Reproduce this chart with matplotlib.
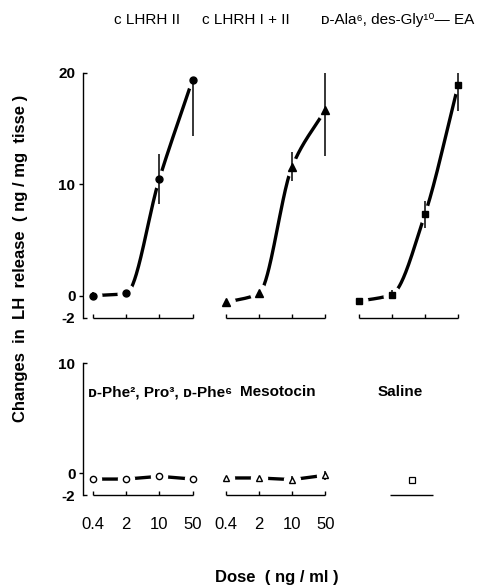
import numpy as np
import matplotlib
matplotlib.use("Agg")
import matplotlib.pyplot as plt
from matplotlib.ticker import FixedLocator, FixedFormatter

plt.rcParams['font.family'] = ['Liberation Sans', 'DejaVu Sans']
plt.rcParams['axes.unicode_minus'] = False

# --- data ---
dose_labels = ["0.4", "2", "10", "50"]
pos_a = [0, 1, 2, 3]
pos_b = [4, 5, 6, 7]
pos_c = [8, 9, 10, 11]
pos_saline = [9.6]

# upper panel: agonists (filled markers)
lhrh2 = [0.0, 0.2, 10.5, 19.4]
lhrh2_lo = [0.3, 0.0, 2.3, 5.1]
lhrh2_hi = [0.3, 0.0, 2.2, 0.0]
lhrh12 = [-0.6, 0.2, 11.6, 16.7]
lhrh12_err = [0.0, 0.0, 1.3, 4.2]
ala = [-0.5, 0.1, 7.3, 18.9]
ala_err = [0.0, 0.4, 1.2, 2.3]

# lower panel: antagonist, mesotocin, saline (open markers)
phe = [-0.55, -0.55, -0.3, -0.55]
phe_err = [0.0, 0.0, 0.0, 0.3]
meso = [-0.45, -0.45, -0.6, -0.2]
meso_err = [0.0, 0.0, 0.35, 0.4]
saline = [-0.65]

top_titles = ["c LHRH II", "c LHRH I + II", "ᴅ-Ala⁶, des-Gly¹⁰— EA"]
bottom_titles = ["ᴅ-Phe², Pro³, ᴅ-Phe⁶", "Mesotocin", "Saline"]


def pchip(x, y, n=60):
    # monotone cubic curve through the points, used only to draw the smooth line
    x = np.asarray(x, float)
    y = np.asarray(y, float)
    h = np.diff(x)
    d = np.diff(y) / h
    m = np.zeros_like(y)
    for k in range(1, len(y) - 1):
        if d[k - 1] * d[k] > 0:
            m[k] = 2 * d[k - 1] * d[k] / (d[k - 1] + d[k])
    m[0] = d[0]
    m[-1] = d[-1]
    xs, ys = [], []
    for k in range(len(h)):
        t = np.linspace(0, 1, n)
        h00 = 2 * t**3 - 3 * t**2 + 1
        h10 = t**3 - 2 * t**2 + t
        h01 = -2 * t**3 + 3 * t**2
        h11 = t**3 - t**2
        xs.append(x[k] + t * h[k])
        ys.append(h00 * y[k] + h10 * h[k] * m[k] + h01 * y[k + 1] + h11 * h[k] * m[k + 1])
    return np.concatenate(xs), np.concatenate(ys)


def bracket(ax, pos, tick=0.4):
    ax.hlines(-2, pos[0], pos[-1], color='k', lw=1.0, clip_on=False)
    ax.vlines(pos, -2, -2 + tick, color='k', lw=1.0, clip_on=False)


def series(ax, pos, vals, lo, hi, marker, ms, filled, smooth):
    if smooth:
        xs, ys = pchip(pos, vals)
    else:
        xs, ys = pos, vals
    ax.plot(xs, ys, color='k', lw=2.4, solid_capstyle='butt', zorder=2)
    # white halo leaves the small gap around each point seen in the original
    ax.plot(pos, vals, ls='none', marker='o', ms=ms + 7, mfc='white', mec='white', zorder=3)
    ax.errorbar(pos, vals, yerr=[lo, hi], fmt='none', ecolor='k', elinewidth=1.1,
                capsize=0, zorder=4)
    ax.plot(pos, vals, ls='none', marker=marker, ms=ms, mfc='k' if filled else 'white',
            mec='k', mew=1.0, zorder=5)


fig = plt.figure(figsize=(4.81, 5.87), dpi=100)
ax1 = fig.add_axes([0.1726, 0.4583, 0.8046, 0.4174])
ax2 = fig.add_axes([0.1726, 0.1567, 0.8046, 0.2249])

for ax, top in ((ax1, 20), (ax2, 10)):
    ax.set_xlim(-0.3, 11.36)
    ax.set_ylim(-2, top)
    for s in ('top', 'right', 'bottom'):
        ax.spines[s].set_visible(False)
    ax.spines['left'].set_bounds(-2, top)
    ax.spines['left'].set_linewidth(1.0)
    ax.yaxis.set_major_locator(FixedLocator([0, 10] if top == 20 else [0]))
    ax.yaxis.set_major_formatter(FixedFormatter(["0", "10"] if top == 20 else ["0"]))
    ax.yaxis.set_minor_locator(FixedLocator([-2, top]))
    ax.yaxis.set_minor_formatter(FixedFormatter(["-2", str(top)]))
    ax.tick_params(axis='y', which='major', direction='out', length=3, width=1.0, pad=2.5,
                   labelsize=11)
    ax.tick_params(axis='y', which='minor', direction='in', length=3, width=1.0, pad=5.5,
                   labelsize=11)
    for lab in ax.get_yticklabels(which='both'):
        lab.set_fontweight('bold')
    ax.patch.set_visible(False)

# upper panel
series(ax1, pos_a, lhrh2, lhrh2_lo, lhrh2_hi, 'o', 5, True, True)
series(ax1, pos_b, lhrh12, lhrh12_err, lhrh12_err, '^', 5.5, True, True)
series(ax1, pos_c, ala, ala_err, ala_err, 's', 5, True, True)
for p in (pos_a, pos_b, pos_c):
    bracket(ax1, p)
ax1.set_xticks([])

# lower panel
series(ax2, pos_a, phe, phe_err, phe_err, 'o', 4.5, False, False)
series(ax2, pos_b, meso, meso_err, meso_err, '^', 4.5, False, False)
ax2.plot(pos_saline, saline, ls='none', marker='s', ms=4.5, mfc='white', mec='k', mew=0.9)
bracket(ax2, pos_a)
bracket(ax2, pos_b)
ax2.hlines(-2, pos_saline[0] - 0.65, pos_saline[0] + 0.65, color='k', lw=1.0, clip_on=False)
ax2.set_xticks(pos_a + pos_b)
ax2.set_xticklabels(dose_labels * 2, fontsize=12)
ax2.tick_params(axis='x', length=0, pad=16)

# titles over the curves
for x, t in zip([0.306, 0.511, 0.826], top_titles):
    fig.text(x, 0.966, t, ha='center', va='center', fontsize=11)
for x, t in zip([0.333, 0.578, 0.832], bottom_titles):
    fig.text(x, 0.332, t, ha='center', va='center', fontsize=11, fontweight='bold')

fig.text(0.042, 0.56, "Changes  in  LH  release  ( ng / mg  tisse )", rotation=90,
         ha='center', va='center', fontsize=12, fontweight='bold')
fig.text(0.576, 0.016, "Dose  ( ng / ml )", ha='center', va='center', fontsize=12,
         fontweight='bold')

fig.savefig("out.png", dpi=100)
